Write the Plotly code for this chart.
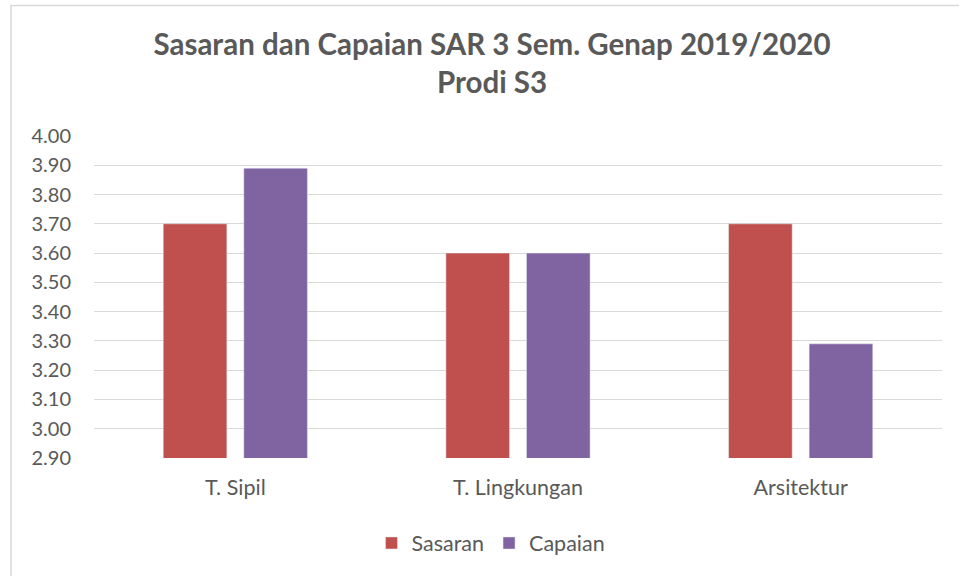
import plotly.graph_objects as go

categories = ["T. Sipil", "T. Lingkungan", "Arsitektur"]
sasaran = [3.70, 3.60, 3.70]
capaian = [3.89, 3.60, 3.29]
series_names = ["Sasaran", "Capaian"]
tick_vals = [2.90, 3.00, 3.10, 3.20, 3.30, 3.40, 3.50, 3.60, 3.70, 3.80, 3.90, 4.00]
title_text = "<b>Sasaran dan Capaian SAR 3 Sem. Genap 2019/2020<br>Prodi S3</b>"

W, H = 959, 576
L, R, T, B = 94, 942, 136, 458
FONT = "Lato"
GREY = "#595959"

fig = go.Figure()
fig.add_trace(go.Bar(x=categories, y=sasaran, name=series_names[0],
                     marker=dict(color="#C0504D"), base=0))
fig.add_trace(go.Bar(x=categories, y=capaian, name=series_names[1],
                     marker=dict(color="#8064A2"), base=0))

pw, ph = R - L, B - T
fig.add_shape(type="rect", xref="paper", yref="paper",
              x0=(11 - L) / pw, x1=(1000 - L) / pw,
              y0=(B - 620) / ph, y1=(B - 5.5) / ph,
              line=dict(color="#d9d9d9", width=1.5), layer="below")

fig.update_layout(
    width=W, height=H,
    margin=dict(l=L, r=W - R, t=T, b=H - B, pad=0),
    paper_bgcolor="white", plot_bgcolor="white",
    barmode="group", bargap=0.43, bargroupgap=0.21,
    font=dict(family=FONT, color=GREY, size=20),
    title=dict(text=title_text, x=492 / W, xanchor="center", xref="container",
               y=1 - 55 / H, yanchor="top", yref="container",
               font=dict(family=FONT, size=29.5, color=GREY)),
    legend=dict(orientation="h", xref="container", yref="container",
                x=491 / W, xanchor="center", y=1 - 543 / H, yanchor="middle",
                font=dict(size=21.5, color=GREY), itemwidth=30,
                traceorder="normal"),
    xaxis=dict(showline=False, showgrid=False, ticks="",
               tickfont=dict(size=21.5, color=GREY), ticklabelstandoff=14),
    yaxis=dict(range=[2.90, 4.00], tickvals=tick_vals, tickformat=".2f",
               showgrid=True, gridcolor="#d9d9d9", gridwidth=1.3,
               zeroline=False, showline=False, ticks="",
               tickfont=dict(size=20, color=GREY), ticklabelstandoff=22),
)

fig.write_html("out.html", config={"displayModeBar": False},
               post_script="document.body.style.margin='0';document.body.style.overflow='hidden';")
